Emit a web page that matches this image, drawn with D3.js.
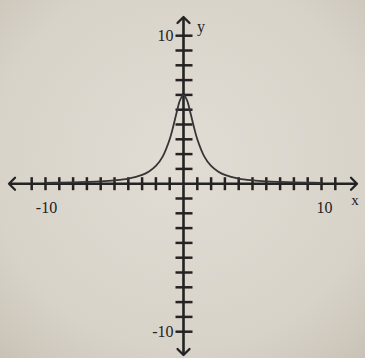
<!DOCTYPE html>
<html>
<head>
<meta charset="utf-8">
<script src="https://cdn.jsdelivr.net/npm/d3@7"></script>
<style>
  html, body { margin: 0; padding: 0; background: #d9d5cc; }
  svg { display: block; }
</style>
</head>
<body>
<svg id="chart" width="365" height="358"></svg>
<script>
// Sampled points of the bell-shaped curve (x, y)
const curveX = [-10, -9, -8, -7, -6, -5, -4, -3, -2.5, -2, -1.5, -1, -0.75, -0.5, -0.25, 0,
                0.25, 0.5, 0.75, 1, 1.5, 2, 2.5, 3, 4, 5, 6, 7, 8, 9, 10];
const curveY = [0.06, 0.07, 0.09, 0.12, 0.16, 0.23, 0.35, 0.6, 0.83, 1.2, 1.85, 3.0, 3.85, 4.8, 5.65, 6.0,
                5.65, 4.8, 3.85, 3.0, 1.85, 1.2, 0.83, 0.6, 0.35, 0.23, 0.16, 0.12, 0.09, 0.07, 0.06];

// Axis ticks and labels
const xTicks = d3.range(-11, 12).filter(v => v !== 0);
const yTicks = d3.range(-10, 11).filter(v => v !== 0);
const xLabels = [-10, 10];
const yLabels = [10, -10];

const W = 365, H = 358;
const svg = d3.select("#chart");

// Paper background with a soft vignette
const defs = svg.append("defs");
const grad = defs.append("radialGradient").attr("id", "paper")
  .attr("cx", "50%").attr("cy", "45%").attr("r", "75%");
grad.append("stop").attr("offset", "0%").attr("stop-color", "#e1ddd4");
grad.append("stop").attr("offset", "70%").attr("stop-color", "#d8d3c9");
grad.append("stop").attr("offset", "100%").attr("stop-color", "#c8c2b6");
svg.append("rect").attr("width", W).attr("height", H).attr("fill", "url(#paper)");

const x = d3.scaleLinear().domain([-10, 10]).range([45.5, 321.5]);
const y = d3.scaleLinear().domain([-10, 10]).range([331.7, 35.7]);

const ink = "#242222";
const g = svg.append("g");

// Axes lines
const xLeft = 9, xRight = 357, yTop = 17, yBottom = 355;
g.append("line").attr("x1", xLeft).attr("x2", xRight).attr("y1", y(0)).attr("y2", y(0))
  .attr("stroke", ink).attr("stroke-width", 2.6);
g.append("line").attr("x1", x(0)).attr("x2", x(0)).attr("y1", yTop).attr("y2", yBottom)
  .attr("stroke", ink).attr("stroke-width", 2.6);

// Arrowheads (open chevrons)
const ah = 6;
const arrows = [
  `M${xLeft + ah},${y(0) - ah} L${xLeft},${y(0)} L${xLeft + ah},${y(0) + ah}`,
  `M${xRight - ah},${y(0) - ah} L${xRight},${y(0)} L${xRight - ah},${y(0) + ah}`,
  `M${x(0) - ah},${yTop + ah} L${x(0)},${yTop} L${x(0) + ah},${yTop + ah}`,
  `M${x(0) - ah},${yBottom - ah} L${x(0)},${yBottom} L${x(0) + ah},${yBottom - ah}`
];
g.selectAll("path.arrow").data(arrows).join("path").attr("class", "arrow")
  .attr("d", d => d).attr("fill", "none").attr("stroke", ink)
  .attr("stroke-width", 2.3).attr("stroke-linecap", "round").attr("stroke-linejoin", "round");

// Tick marks
g.selectAll("line.xt").data(xTicks).join("line").attr("class", "xt")
  .attr("x1", d => x(d)).attr("x2", d => x(d))
  .attr("y1", y(0) - 6.5).attr("y2", y(0) + 6.5)
  .attr("stroke", ink).attr("stroke-width", 2.5);
g.selectAll("line.yt").data(yTicks).join("line").attr("class", "yt")
  .attr("x1", x(0) - 8).attr("x2", x(0) + 9)
  .attr("y1", d => y(d)).attr("y2", d => y(d))
  .attr("stroke", ink).attr("stroke-width", 2.5);

// The curve
const pts = curveX.map((v, i) => [v, curveY[i]]);
const line = d3.line().x(d => x(d[0])).y(d => y(d[1])).curve(d3.curveCatmullRom.alpha(0.5));
g.append("path").datum(pts).attr("d", line)
  .attr("fill", "none").attr("stroke", "#363434").attr("stroke-width", 1.8);

// Labels
const font = "'Liberation Serif', 'Times New Roman', serif";
g.selectAll("text.xl").data(xLabels).join("text").attr("class", "xl")
  .attr("x", d => x(d) + (d < 0 ? 1 : 3)).attr("y", y(0) + 29)
  .attr("text-anchor", "middle").attr("font-family", font).attr("font-size", 16)
  .attr("fill", ink).text(d => d);
g.selectAll("text.yl").data(yLabels).join("text").attr("class", "yl")
  .attr("x", x(0) - 10).attr("y", d => y(d) + 5)
  .attr("text-anchor", "end").attr("font-family", font).attr("font-size", 16)
  .attr("fill", ink).text(d => d);
g.append("text").attr("x", 355).attr("y", y(0) + 21).attr("text-anchor", "middle")
  .attr("font-family", font).attr("font-size", 15).attr("fill", ink).text("x");
g.append("text").attr("x", 201).attr("y", 32).attr("text-anchor", "middle")
  .attr("font-family", font).attr("font-size", 16).attr("fill", ink).text("y");
</script>
</body>
</html>
